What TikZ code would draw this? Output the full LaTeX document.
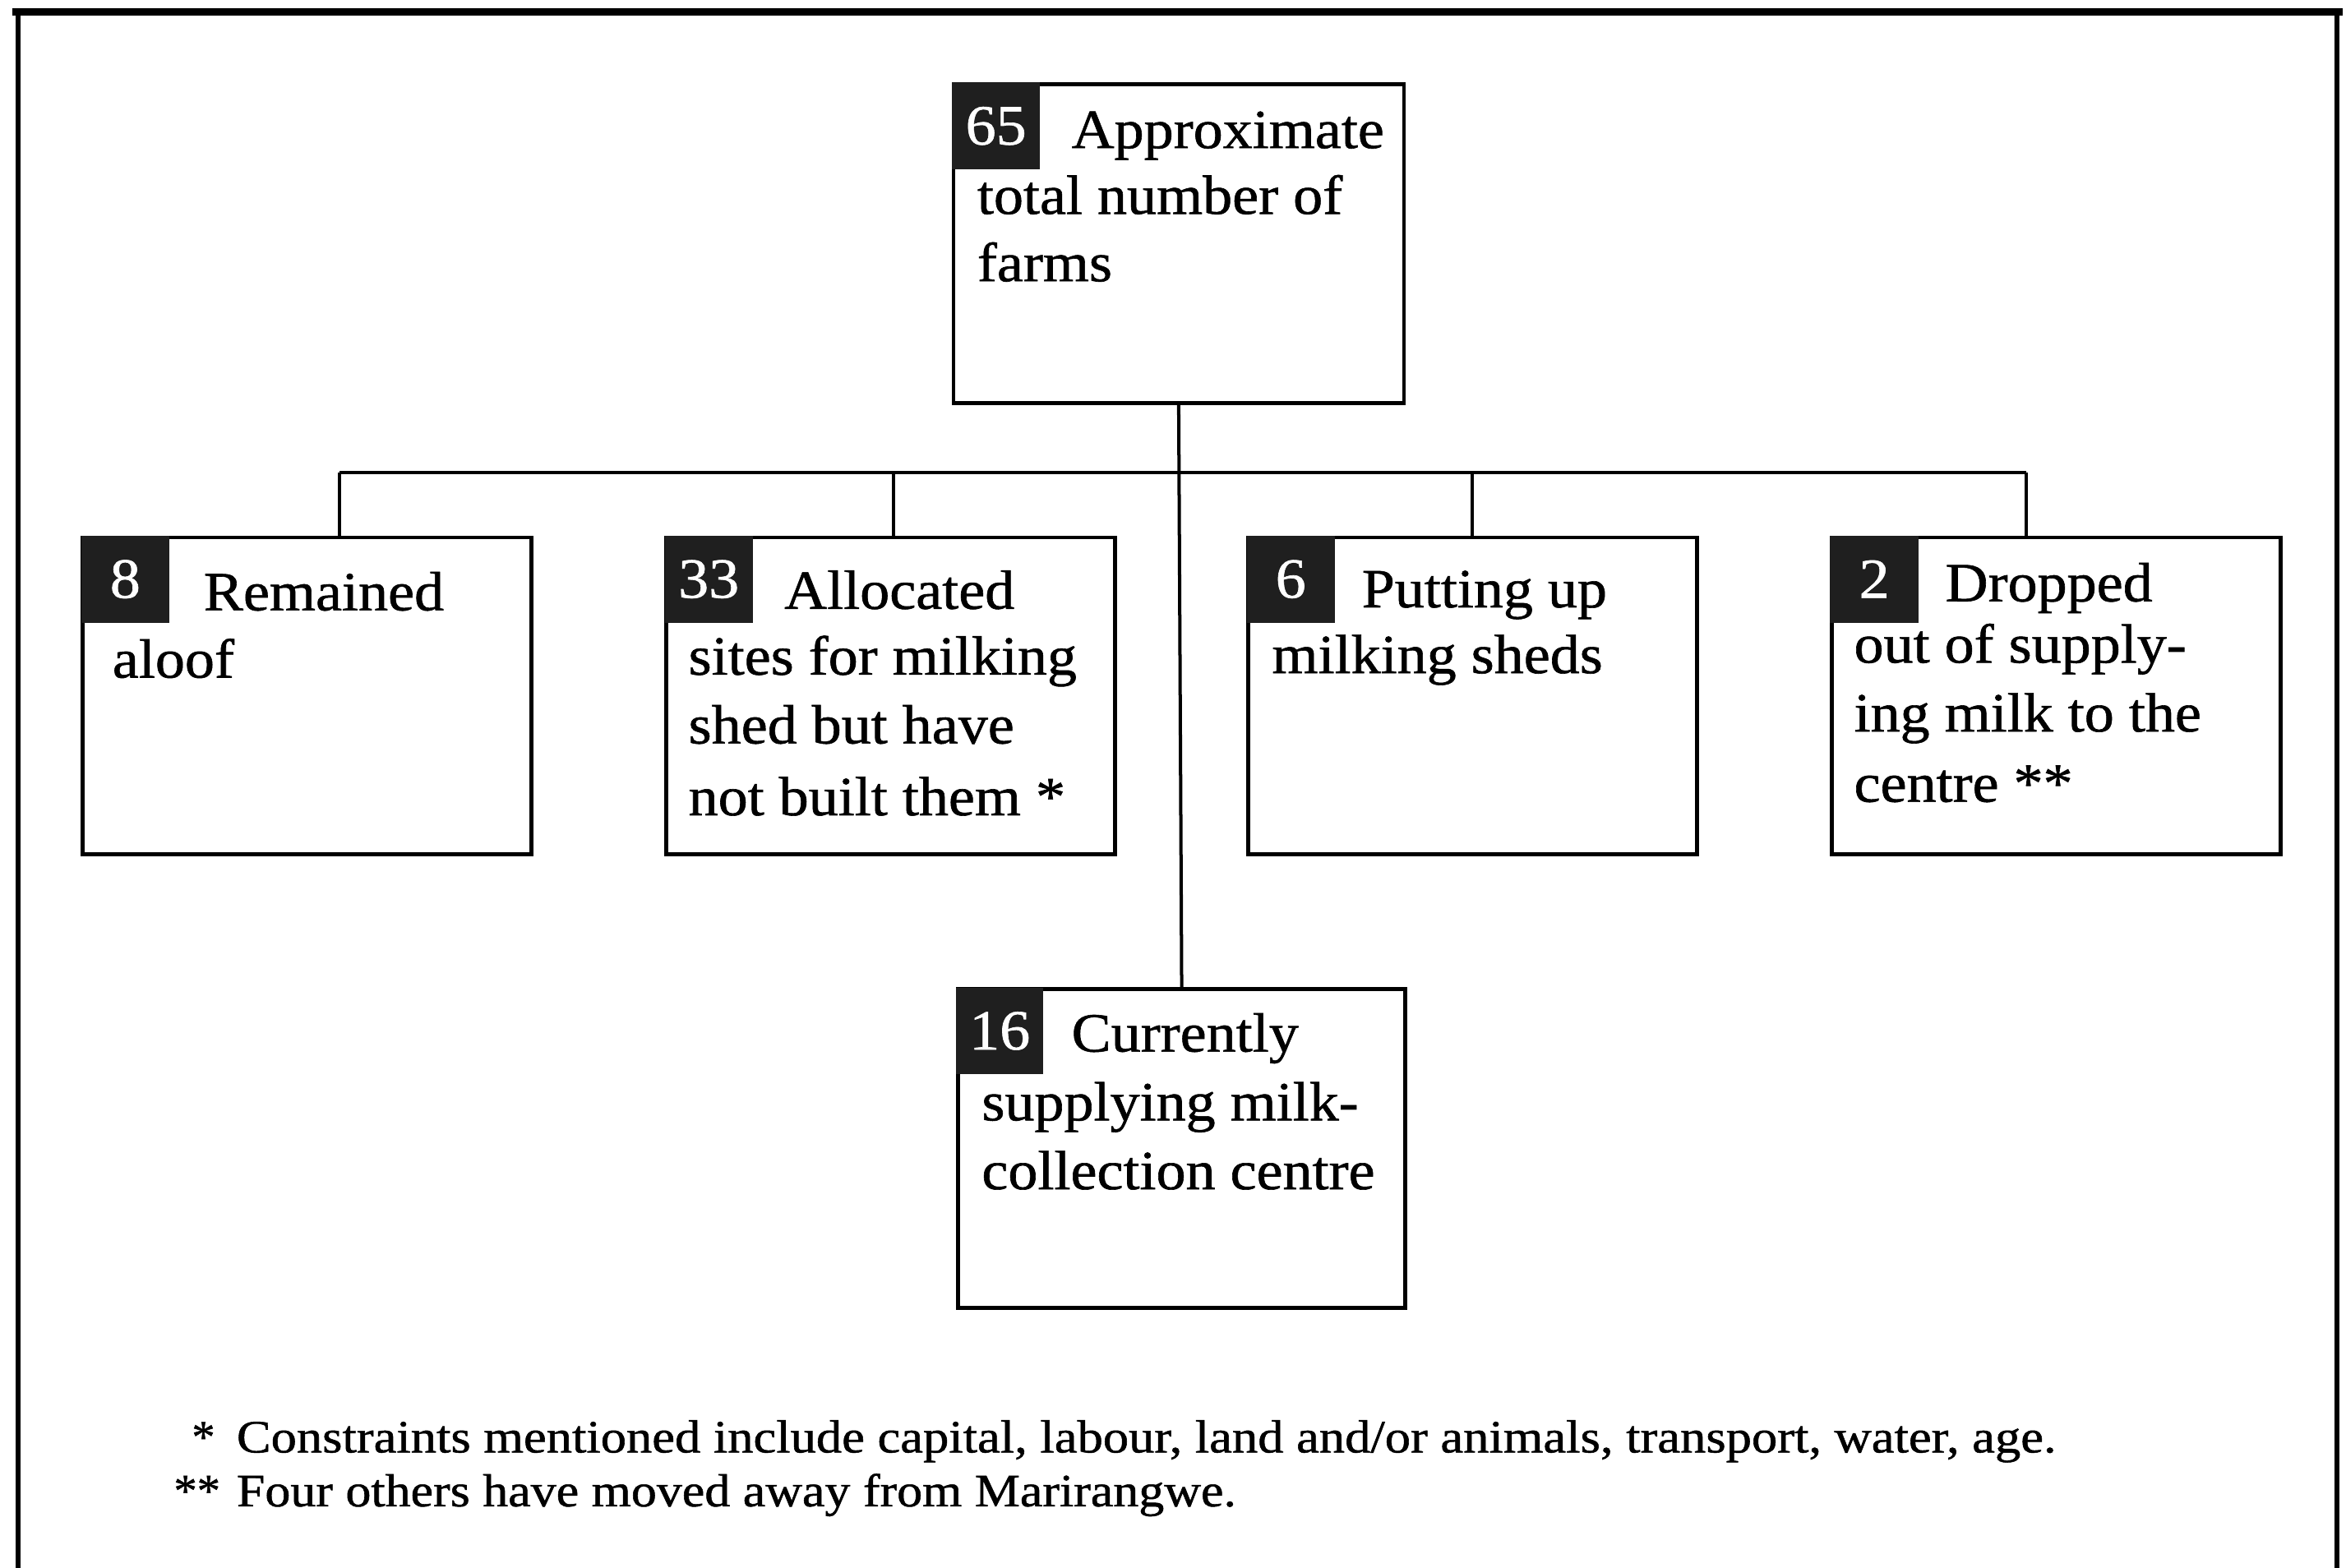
\documentclass[tikz,border=0pt]{standalone}
\usepackage{fontspec}
\setmainfont{Liberation Serif}
\newfontfamily\boxfont{Liberation Serif}[FakeStretch=1.07, FakeBold=0.9]
\newfontfamily\notefont{Liberation Serif}[FakeBold=0.9]
\usepackage{graphicx}
\begin{document}
\begin{tikzpicture}[x=1pt,y=-1pt,
  box/.style={draw=black, line width=2.6pt, minimum width=300pt, minimum height=212pt,
              inner sep=0pt, anchor=north west},
  numlabel/.style={fill=black!88, text=white, minimum width=59pt, minimum height=58pt,
              inner sep=0pt, anchor=north west, font=\boxfont\fontsize{38}{40}\selectfont},
  line/.style={anchor=base west, inner sep=0pt, font=\boxfont\fontsize{37}{45}\selectfont},
  note/.style={anchor=base west, inner sep=0pt, font=\notefont\fontsize{31}{36}\selectfont},
  conn/.style={draw=black, line width=2.2pt},
  frame/.style={draw=black, line width=3pt}]

% page area
\fill[white] (0,0) rectangle (1568,1048);
\useasboundingbox (0,0) rectangle (1568,1048);

% surrounding frame, open at the foot
\begin{scope}
  \clip (0,0) rectangle (1568,1048);
  \draw[frame] (12,1060) -- (12,8);
  \draw[frame] (1562,8) -- (1562,1060);
  \draw[draw=black, line width=4.5pt] (8,8) -- (1566,8);
\end{scope}

% boxes
\node[box, minimum width=301pt, minimum height=213pt] (top) at (636,55) {};
\node[box] (b1) at (54,358) {};
\node[box] (b2) at (444,358) {};
\node[box] (b3) at (833,358) {};
\node[box] (b4) at (1223,358) {};
\node[box, minimum width=299pt, minimum height=213pt] (bot) at (639,660) {};

% number tabs
\node[numlabel] (top-n) at (top.north west) {65};
\node[numlabel] (b1-n) at (b1.north west) {8};
\node[numlabel] (b2-n) at (b2.north west) {33};
\node[numlabel] (b3-n) at (b3.north west) {6};
\node[numlabel] (b4-n) at (b4.north west) {2};
\node[numlabel, minimum width=58pt] (bot-n) at (bot.north west) {16};

% box texts
\node[line] (top-l1) at (716,99) {Approximate};
\node[line] (top-l2) at (653,143) {total number of};
\node[line] (top-l3) at (653,188) {farms};

\node[line] (b1-l1) at (136,408) {Remained};
\node[line] (b1-l2) at (75,453) {aloof};

\node[line] (b2-l1) at (524,407) {Allocated};
\node[line] (b2-l2) at (460,451) {sites for milking};
\node[line] (b2-l3) at (460,497) {shed but have};
\node[line] (b2-l4) at (460,545) {not built them *};

\node[line] (b3-l1) at (910,406) {Putting up};
\node[line] (b3-l2) at (850,450) {milking sheds};

\node[line] (b4-l1) at (1300,402) {Dropped};
\node[line] (b4-l2) at (1239,443) {out of supply-};
\node[line] (b4-l3) at (1239,489) {ing milk to the};
\node[line] (b4-l4) at (1239,536) {centre **};

\node[line] (bot-l1) at (716,703) {Currently};
\node[line] (bot-l2) at (656,749) {supplying milk-};
\node[line] (bot-l3) at (656,795) {collection centre};

% connectors
\coordinate (j1) at (227,316);
\coordinate (j2) at (597,316);
\coordinate (j3) at (984,316);
\coordinate (j4) at (1354,316);
\draw[conn] (top.south) -- (bot.north);
\draw[conn] (j1) -- (j4);
\draw[conn] (j1) -- (j1 |- b1.north);
\draw[conn] (j2) -- (j2 |- b2.north);
\draw[conn] (j3) -- (j3 |- b3.north);
\draw[conn] (j4) -- (j4 |- b4.north);

% footnotes
\node[note] (n1m) at (128,971) {*};
\node[note] (n1) at (158,971) {\resizebox{1216pt}{\height}{Constraints mentioned include capital, labour, land and/or animals, transport, water, age.}};
\node[note] (n2m) at (116,1007) {**};
\node[note] (n2) at (158,1007) {\resizebox{668pt}{\height}{Four others have moved away from Marirangwe.}};
\end{tikzpicture}
\end{document}
